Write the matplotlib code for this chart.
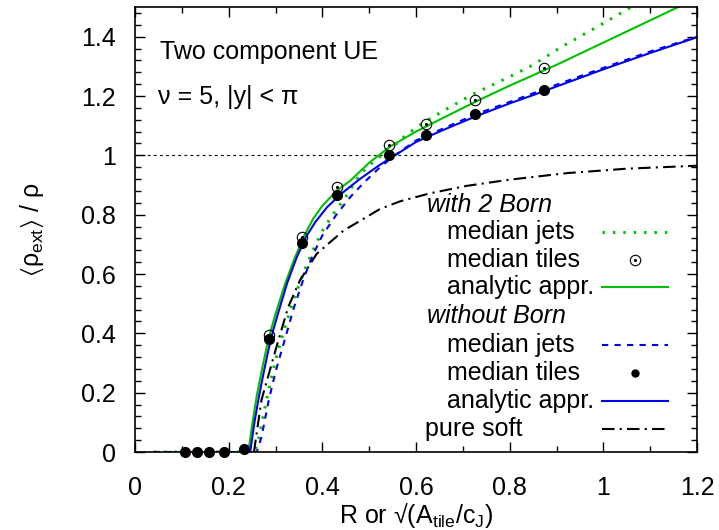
import numpy as np
import matplotlib
matplotlib.use('Agg')
import matplotlib.pyplot as plt
from matplotlib.ticker import MultipleLocator

plt.rcParams['font.family'] = ['Liberation Sans', 'DejaVu Sans']
plt.rcParams['mathtext.fontset'] = 'custom'
plt.rcParams['mathtext.rm'] = 'Liberation Sans'
plt.rcParams['mathtext.it'] = 'Liberation Sans:italic'
plt.rcParams['mathtext.fallback'] = 'stixsans'

# median tiles (points)
tile_x = [0.107, 0.132, 0.159, 0.191, 0.233, 0.286, 0.357, 0.431, 0.542, 0.621, 0.727, 0.873]
tile_noborn = [0, 0, 0, 0, 0.01, 0.382, 0.705, 0.866, 1.002, 1.069, 1.141, 1.221]
tile_born_x = [0.286, 0.357, 0.431, 0.542, 0.621, 0.727, 0.873]
tile_born = [0.396, 0.724, 0.892, 1.035, 1.107, 1.188, 1.295]

# analytic approximation, with 2 Born
an_born_x = [0.242, 0.250, 0.260, 0.270, 0.280, 0.290, 0.300, 0.320, 0.340, 0.360, 0.380, 0.400, 0.430,
             0.460, 0.500, 0.545, 0.600, 0.650, 0.730, 0.800, 0.850, 0.900, 1.000, 1.060, 1.100, 1.160, 1.200]
an_born_y = [0, 0.09, 0.19, 0.27, 0.345, 0.41, 0.465, 0.565, 0.65, 0.725, 0.785, 0.83, 0.88,
             0.915, 0.975, 1.03, 1.08, 1.12, 1.183, 1.235, 1.27, 1.305, 1.38, 1.425, 1.455, 1.50, 1.53]

# analytic approximation, without Born
an_nob_x = [0.246, 0.255, 0.265, 0.275, 0.285, 0.295, 0.305, 0.325, 0.345, 0.365, 0.385, 0.41, 0.44,
            0.48, 0.52, 0.55, 0.6, 0.65, 0.73, 0.80, 0.85, 0.9, 1.0, 1.1, 1.2]
an_nob_y = [0, 0.10, 0.19, 0.27, 0.345, 0.41, 0.465, 0.57, 0.655, 0.725, 0.775, 0.825, 0.87,
            0.92, 0.965, 0.995, 1.045, 1.08, 1.133, 1.175, 1.203, 1.232, 1.29, 1.345, 1.398]

# median jets, with 2 Born
jet_born_x = [0.04, 0.255, 0.265, 0.28, 0.30, 0.32, 0.34, 0.36, 0.38, 0.40, 0.42, 0.45, 0.48, 0.51,
              0.54, 0.58, 0.62, 0.72, 0.80, 0.85, 0.91, 1.0, 1.06, 1.12]
jet_born_y = [0, 0, 0.05, 0.17, 0.31, 0.42, 0.52, 0.605, 0.68, 0.745, 0.795, 0.86, 0.935, 0.98,
              1.015, 1.07, 1.115, 1.205, 1.265, 1.305, 1.365, 1.445, 1.50, 1.555]

# median jets, without Born
jet_nob_x = [0.04, 0.26, 0.27, 0.285, 0.30, 0.32, 0.34, 0.36, 0.38, 0.40, 0.43, 0.46, 0.49, 0.52,
             0.55, 0.6, 0.65, 0.73, 0.8, 0.9, 1.0, 1.1, 1.2]
jet_nob_y = [0, 0, 0.05, 0.17, 0.27, 0.38, 0.49, 0.585, 0.665, 0.73, 0.80, 0.86, 0.91, 0.955,
             0.995, 1.05, 1.085, 1.14, 1.18, 1.238, 1.295, 1.35, 1.40]

# pure soft
soft_x = [0.254, 0.27, 0.302, 0.327, 0.352, 0.388, 0.445, 0.523, 0.566, 0.63, 0.708, 0.8, 0.922, 1.05, 1.2]
soft_y = [0, 0.175, 0.354, 0.488, 0.578, 0.668, 0.746, 0.819, 0.845, 0.872, 0.897, 0.918, 0.94, 0.955, 0.965]

green = '#00c000'
blue = '#0000f0'
dotted = (0, (0.8, 2.6))
dashed = (0, (3, 3))
dashdot = (0, (6, 2.5, 1, 2.5))

fig = plt.figure(figsize=(7.19, 5.30), dpi=100)
ax = fig.add_axes([135/719, 78/530, 562/719, 445/530])

ax.axhline(1.0, color='black', lw=0.8, ls=(0, (2.5, 3)))

ax.plot(jet_born_x, jet_born_y, color=green, lw=2.2, ls=dotted)
ax.plot(an_born_x, an_born_y, color=green, lw=1.5)
ax.plot(jet_nob_x, jet_nob_y, color=blue, lw=1.5, ls=dashed)
ax.plot(an_nob_x, an_nob_y, color=blue, lw=1.5)
ax.plot(soft_x, soft_y, color='black', lw=1.5, ls=dashdot)

ax.plot(tile_born_x, tile_born, 'o', mfc='none', mec='black', mew=0.8, ms=7.5, clip_on=False)
ax.plot(tile_born_x, tile_born, 'o', color='black', ms=1.2, clip_on=False)
ax.plot(tile_x, tile_noborn, 'o', color='black', ms=7, clip_on=False, zorder=5)

ax.set_xlim(0, 1.2)
ax.set_ylim(0, 1.5)
ax.xaxis.set_minor_locator(MultipleLocator(0.1))
ax.yaxis.set_minor_locator(MultipleLocator(0.04))
ax.set_xticks([0, 0.2, 0.4, 0.6, 0.8, 1.0, 1.2])
ax.set_xticklabels(['0', '0.2', '0.4', '0.6', '0.8', '1', '1.2'])
ax.set_yticks([0, 0.2, 0.4, 0.6, 0.8, 1.0, 1.2, 1.4])
ax.set_yticklabels(['0', '0.2', '0.4', '0.6', '0.8', '1', '1.2', '1.4'])
ax.tick_params(which='both', direction='in', top=True, right=True, labelsize=18, width=1)
ax.tick_params(which='major', length=7)
ax.tick_params(which='minor', length=4)
ax.tick_params(axis='x', pad=17)
ax.tick_params(axis='y', pad=14)
for s in ax.spines.values():
    s.set_linewidth(1.2)

ax.set_xlabel(r'R or √(A$_{\rm tile}$/c$_{\rm J}$)', fontsize=18, labelpad=1)
ax.set_ylabel(r'$\langle$ρ$_{\rm ext}$$\rangle$ / ρ', fontsize=18, labelpad=25)

def px(x, y):
    # pixel position in the figure -> axes fraction
    return (x - 135) / 562, (452 - y) / 445

ax.text(*px(160, 52), 'Two component UE', transform=ax.transAxes, fontsize=18, va='center')
ax.text(*px(158, 97), 'ν = 5, |y| < π', transform=ax.transAxes, fontsize=18, va='center')

# legend (gnuplot style: text left, sample right)
rows = [
    ('with 2 Born', 205, 427, True, None),
    ('median jets', 232, 447, False, dict(color=green, lw=2.2, ls=dotted)),
    ('median tiles', 260, 447, False, 'open'),
    ('analytic appr.', 287, 447, False, dict(color=green, lw=1.5)),
    ('without Born', 316, 427, True, None),
    ('median jets', 345, 447, False, dict(color=blue, lw=1.5, ls=dashed)),
    ('median tiles', 373, 447, False, 'filled'),
    ('analytic appr.', 401, 447, False, dict(color=blue, lw=1.5)),
    ('pure soft', 429, 425, False, dict(color='black', lw=1.5, ls=dashdot)),
]
for label, yy, xx, italic, sample in rows:
    ax.text(*px(xx, yy), label, transform=ax.transAxes, fontsize=18, va='center',
            style='italic' if italic else 'normal')
    if sample is None:
        continue
    x0, y0 = px(602, yy)
    x1, _ = px(668, yy)
    xm, _ = px(635, yy)
    if sample == 'open':
        ax.plot([xm], [y0], 'o', mfc='none', mec='black', mew=0.8, ms=7.5, transform=ax.transAxes, clip_on=False)
        ax.plot([xm], [y0], 'o', color='black', ms=1.2, transform=ax.transAxes, clip_on=False)
    elif sample == 'filled':
        ax.plot([xm], [y0], 'o', color='black', ms=5, transform=ax.transAxes, clip_on=False)
    else:
        ax.plot([x0, x1], [y0, y0], transform=ax.transAxes, **sample)

fig.savefig('out.png', dpi=100)
